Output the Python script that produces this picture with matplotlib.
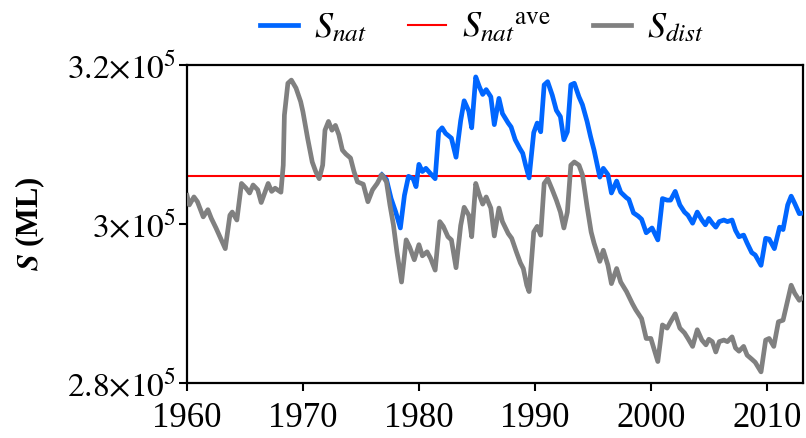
import matplotlib
matplotlib.use('Agg')
import matplotlib.pyplot as plt
from matplotlib.ticker import FixedLocator, FixedFormatter

plt.rcParams['font.family'] = ['Liberation Serif', 'DejaVu Serif']
plt.rcParams['mathtext.fontset'] = 'stix'

# storage with disturbance (grey), thousands of ML
years_dist = [1960.0, 1960.2, 1960.6, 1960.9, 1961.4, 1961.8, 1962.1, 1962.5, 1962.9, 1963.3,
              1963.7, 1963.9, 1964.3, 1964.7, 1965.1, 1965.4, 1965.7, 1966.1, 1966.4, 1967.0,
              1967.3, 1967.6, 1967.9, 1968.1, 1968.3, 1968.4, 1968.7, 1969.0, 1969.4, 1969.8,
              1970.0, 1970.4, 1970.8, 1971.1, 1971.4, 1971.7, 1971.9, 1972.2, 1972.5, 1972.8,
              1973.1, 1973.4, 1973.7, 1974.1, 1974.4, 1974.7, 1975.2, 1975.6, 1976.0, 1976.4,
              1976.8, 1977.2, 1977.5, 1977.8, 1978.1, 1978.5, 1978.9, 1979.2, 1979.6, 1980.0,
              1980.3, 1980.7, 1981.0, 1981.4, 1981.8, 1982.1, 1982.5, 1982.8, 1983.2, 1983.6,
              1983.9, 1984.3, 1984.55, 1984.9, 1985.2, 1985.5, 1985.8, 1986.2, 1986.5, 1986.9,
              1987.2, 1987.7, 1988.0, 1988.4, 1988.75, 1989.0, 1989.3, 1989.5, 1989.9, 1990.2,
              1990.5, 1990.8, 1991.1, 1991.5, 1991.85, 1992.2, 1992.5, 1992.8, 1993.1, 1993.4,
              1993.8, 1994.1, 1994.5, 1994.85, 1995.1, 1995.6, 1995.9, 1996.3, 1996.6, 1997.05,
              1997.4, 1997.9, 1998.4, 1998.7, 1999.2, 1999.6, 2000.0, 2000.6, 2001.0, 2001.4,
              2001.7, 2002.1, 2002.5, 2002.9, 2003.2, 2003.6, 2004.0, 2004.4, 2004.75, 2005.0,
              2005.3, 2005.6, 2005.9, 2006.3, 2006.6, 2007.0, 2007.3, 2007.6, 2008.0, 2008.3,
              2008.7, 2009.0, 2009.5, 2009.9, 2010.2, 2010.6, 2011.0, 2011.4, 2011.8, 2012.1,
              2012.4, 2012.8, 2013.2]
s_dist = [303.6, 302.4, 303.4, 302.8, 300.9, 301.8, 300.7, 299.5, 298.2, 296.9,
          301.1, 301.5, 300.5, 305.1, 304.5, 303.9, 304.9, 304.3, 302.7, 305.1,
          304.1, 304.5, 304.2, 304.0, 307.4, 313.7, 317.7, 318.1, 317.1, 315.4,
          314.1, 310.8, 307.8, 306.6, 305.7, 307.4, 311.8, 312.9, 311.8, 312.4,
          311.2, 309.3, 308.8, 308.3, 306.6, 305.3, 305.0, 302.8, 304.3, 305.1,
          306.2, 305.3, 302.4, 299.9, 296.5, 292.7, 298.0, 297.1, 295.5, 297.4,
          296.0, 296.5, 295.7, 294.2, 300.3, 299.7, 298.4, 298.0, 294.5, 299.8,
          302.1, 301.1, 298.4, 305.1, 303.7, 302.5, 303.4, 302.0, 298.5, 302.0,
          300.3, 298.8, 298.2, 296.5, 295.1, 294.4, 292.3, 291.5, 299.0, 299.7,
          298.6, 305.1, 305.7, 304.3, 303.0, 301.5, 299.5, 301.5, 307.4, 307.8,
          307.4, 306.2, 302.2, 299.0, 297.6, 295.3, 296.7, 294.8, 292.5, 294.4,
          292.7, 291.5, 290.0, 289.2, 288.1, 285.6, 285.6, 282.7, 287.3, 286.9,
          287.7, 288.7, 286.9, 286.3, 285.6, 284.6, 286.7, 285.4, 284.8, 285.5,
          285.2, 283.9, 285.2, 285.4, 285.2, 285.8, 284.4, 284.0, 284.6, 283.5,
          283.0, 282.6, 281.4, 285.4, 285.6, 284.6, 287.7, 287.9, 290.4, 292.3,
          291.3, 290.4, 290.9]

# natural storage (blue), thousands of ML
years_nat = [1976.8, 1977.2, 1977.6, 1978.0, 1978.4, 1978.75, 1979.1, 1979.5, 1979.75, 1980.0,
             1980.3, 1980.6, 1980.9, 1981.4, 1981.7, 1982.0, 1982.3, 1982.8, 1983.2, 1983.6,
             1983.9, 1984.3, 1984.55, 1984.9, 1985.2, 1985.5, 1985.8, 1986.2, 1986.5, 1986.9,
             1987.2, 1987.7, 1987.95, 1988.3, 1988.7, 1988.95, 1989.2, 1989.5, 1989.9, 1990.2,
             1990.5, 1990.8, 1991.1, 1991.5, 1991.85, 1992.2, 1992.5, 1992.8, 1993.1, 1993.4,
             1993.8, 1994.1, 1994.5, 1994.8, 1995.1, 1995.6, 1995.9, 1996.3, 1996.6, 1997.05,
             1997.4, 1997.9, 1998.1, 1998.5, 1998.9, 1999.2, 1999.6, 2000.1, 2000.6, 2001.0,
             2001.4, 2001.7, 2002.1, 2002.5, 2002.9, 2003.2, 2003.6, 2004.0, 2004.4, 2004.7,
             2005.0, 2005.3, 2005.6, 2005.9, 2006.3, 2006.6, 2007.0, 2007.3, 2007.6, 2008.0,
             2008.3, 2008.7, 2009.0, 2009.5, 2009.9, 2010.2, 2010.65, 2011.1, 2011.4, 2011.8,
             2012.1, 2012.4, 2012.8, 2013.2]
s_nat = [306.2, 305.6, 303.2, 301.5, 299.5, 303.6, 306.0, 305.7, 304.7, 307.5,
         306.6, 307.0, 306.5, 305.7, 311.6, 312.1, 311.4, 310.8, 308.4, 313.0,
         315.5, 314.2, 312.1, 318.5, 317.3, 316.3, 316.9, 316.0, 312.5, 315.8,
         313.9, 312.7, 312.2, 310.6, 309.5, 308.9, 307.4, 305.8, 311.5, 312.7,
         311.6, 317.5, 317.9, 316.2, 314.3, 313.5, 310.6, 311.6, 317.5, 317.7,
         316.0, 315.0, 312.9, 311.0, 309.3, 305.9, 307.0, 306.2, 303.9, 305.4,
         304.0, 303.3, 303.1, 301.4, 301.0, 300.6, 298.9, 299.5, 298.0, 303.2,
         303.0, 303.0, 304.1, 302.4, 301.5, 301.1, 300.1, 301.5, 300.5, 299.9,
         300.7, 300.1, 299.6, 300.3, 300.5, 300.3, 300.5, 299.2, 298.4, 298.6,
         297.6, 296.4, 296.1, 294.8, 298.2, 298.1, 296.9, 299.6, 299.3, 302.4,
         303.5, 302.6, 301.3, 301.4]

s_nat_ave = 306.0

y_ticks = [2.8e5, 3.0e5, 3.2e5]
y_tick_labels = [r'$2.8{\times}10^5$', r'$3{\times}10^5$', r'$3.2{\times}10^5$']
x_ticks = [1960, 1970, 1980, 1990, 2000, 2010]

fig = plt.figure(figsize=(8.06, 4.38), dpi=100)
ax = fig.add_axes([0.232, 0.1256, 0.764, 0.726])

ax.plot(years_nat, [v * 1000 for v in s_nat], color='#0066ff', lw=3.4,
        solid_joinstyle='round', zorder=3, label=r'$S_{nat}$')
ax.axhline(s_nat_ave * 1000, color='#ff0000', lw=1.5, zorder=2,
           label=r'$S_{nat}{}^{\mathrm{ave}}$')
ax.plot(years_dist, [v * 1000 for v in s_dist], color='#808080', lw=3.4,
        solid_joinstyle='round', zorder=4, label=r'$S_{dist}$')

ax.set_xlim(1960, 2013.1)
ax.set_ylim(2.8e5, 3.2e5)
ax.xaxis.set_major_locator(FixedLocator(x_ticks))
ax.yaxis.set_major_locator(FixedLocator(y_ticks))
ax.yaxis.set_major_formatter(FixedFormatter(y_tick_labels))
ax.tick_params(axis='x', labelsize=25, width=1.5, length=6, direction='out', pad=8)
ax.tick_params(axis='y', labelsize=24, width=1.5, length=6, direction='out', pad=2)
for sp in ax.spines.values():
    sp.set_linewidth(1.6)

ax.set_ylabel(r'$\mathbfit{S}$ (ML)', fontsize=22, fontweight='bold', labelpad=14)

fig.legend(loc='center', bbox_to_anchor=(0.598, 0.935), ncol=3, frameon=False,
           fontsize=26, handlelength=1.05, handletextpad=0.45, columnspacing=1.15)

fig.savefig('out.png', dpi=100)
